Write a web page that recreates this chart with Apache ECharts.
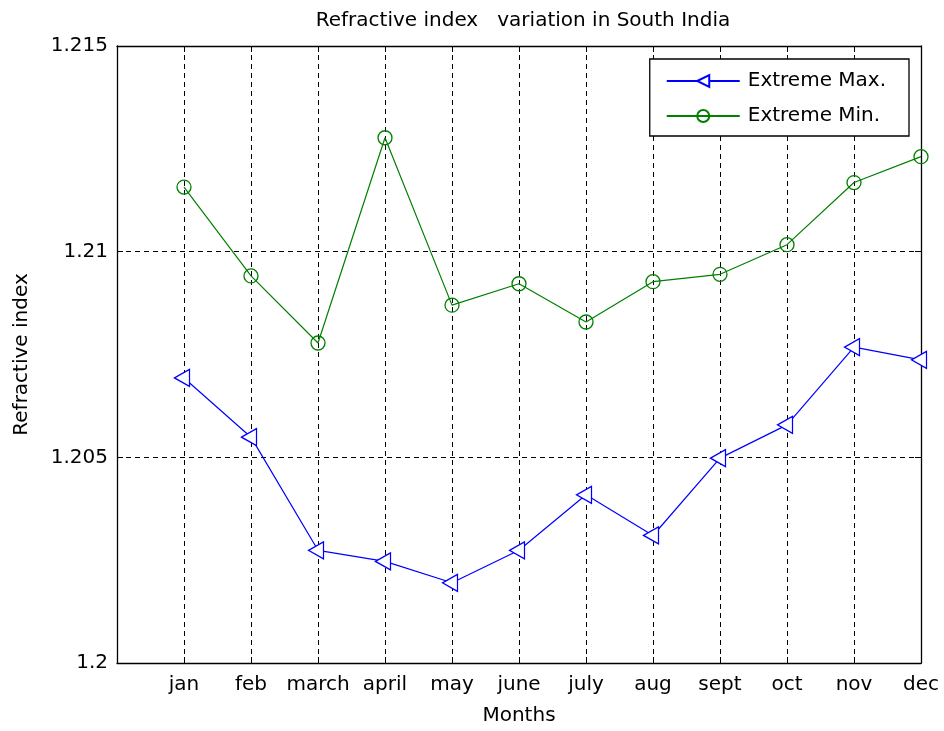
<!DOCTYPE html>
<html>
<head>
<meta charset="utf-8">
<script src="https://cdn.jsdelivr.net/npm/echarts@6/dist/echarts.min.js"></script>
<style>html,body{margin:0;padding:0;background:#fff;}#chart{width:944px;height:731px;}</style>
</head>
<body>
<div id="chart"></div>
<script>
const months = ['jan','feb','march','april','may','june','july','aug','sept','oct','nov','dec'];
const extremeMax = [1.20693, 1.20549, 1.20274, 1.20247, 1.20195, 1.20274, 1.20409, 1.20310, 1.20498, 1.20579, 1.20768, 1.20737];
const extremeMin = [1.21157, 1.20941, 1.20778, 1.21277, 1.20870, 1.20922, 1.20829, 1.20927, 1.20945, 1.21017, 1.21168, 1.21231];
const yMin = 1.2, yMax = 1.215, yStep = 0.005;
const titleText = 'Refractive index   variation in South India';

const FONT = 'DejaVu Sans';
const FS = 20;
const chart = echarts.init(document.getElementById('chart'), null, {renderer: 'canvas'});
const gridLine = {show: true, lineStyle: {color: '#000', type: [5, 4], width: 1}};
const axisLine = {show: true, onZero: false, lineStyle: {color: '#000', width: 1.3}};
const fmtY = v => String(parseFloat(v.toFixed(3)));

chart.setOption({
  animation: false,
  backgroundColor: '#fff',
  title: {
    text: titleText, left: 518, textAlign: 'center', top: 6,
    textStyle: {fontFamily: FONT, fontSize: FS, fontWeight: 'normal', color: '#000'}
  },
  grid: {left: 117, right: 23, top: 46, bottom: 68, containLabel: false},
  legend: {
    orient: 'vertical', right: 35, top: 59,
    backgroundColor: '#fff', borderColor: '#000', borderWidth: 1.3,
    padding: [12, 23, 10, 16], itemWidth: 73, itemHeight: 15, itemGap: 15,
    textStyle: {fontFamily: FONT, fontSize: FS, color: '#000', padding: [0, 0, 0, 3]},
    data: ['Extreme Max.', 'Extreme Min.']
  },
  xAxis: [{
    type: 'value', min: 0, max: 12, interval: 1,
    name: 'Months', nameLocation: 'middle', nameGap: 43,
    nameTextStyle: {fontFamily: FONT, fontSize: FS, color: '#000'},
    axisLine: axisLine,
    axisTick: {show: true, inside: true, length: 6, lineStyle: {color: '#000'}},
    axisLabel: {
      fontFamily: FONT, fontSize: FS, color: '#000', margin: 12,
      formatter: v => (v >= 1 && v <= 12) ? months[v - 1] : ''
    },
    splitLine: gridLine
  }, {
    type: 'value', min: 0, max: 12, interval: 1, position: 'top',
    axisLine: axisLine,
    axisTick: {show: true, inside: true, length: 6, lineStyle: {color: '#000'}},
    axisLabel: {show: false}, splitLine: {show: false}
  }],
  yAxis: [{
    type: 'value', min: yMin, max: yMax, interval: yStep,
    name: 'Refractive index', nameLocation: 'middle', nameGap: 85, nameRotate: 90,
    nameTextStyle: {fontFamily: FONT, fontSize: FS, color: '#000'},
    axisLine: axisLine,
    axisTick: {show: true, inside: true, length: 6, lineStyle: {color: '#000'}},
    axisLabel: {fontFamily: FONT, fontSize: FS, color: '#000', margin: 9, formatter: fmtY},
    splitLine: gridLine
  }, {
    type: 'value', min: yMin, max: yMax, interval: yStep, position: 'right',
    axisLine: axisLine,
    axisTick: {show: true, inside: true, length: 6, lineStyle: {color: '#000'}},
    axisLabel: {show: false}, splitLine: {show: false}
  }],
  series: [{
    name: 'Extreme Max.', type: 'line',
    data: extremeMax.map((v, i) => [i + 1, v]),
    symbol: 'path://M0,5L10,0L10,10Z', symbolSize: [15, 17], symbolOffset: [-2, 0],
    showAllSymbol: true,
    lineStyle: {color: '#0000ff', width: 1.2},
    itemStyle: {color: '#fff', borderColor: '#0000ff', borderWidth: 1.3},
    emphasis: {disabled: true}
  }, {
    name: 'Extreme Min.', type: 'line',
    data: extremeMin.map((v, i) => [i + 1, v]),
    symbol: 'circle', symbolSize: 14,
    showAllSymbol: true,
    lineStyle: {color: '#008000', width: 1.2},
    itemStyle: {color: 'rgba(255,255,255,0)', borderColor: '#008000', borderWidth: 1.3},
    emphasis: {disabled: true}
  }]
});
</script>
</body>
</html>
